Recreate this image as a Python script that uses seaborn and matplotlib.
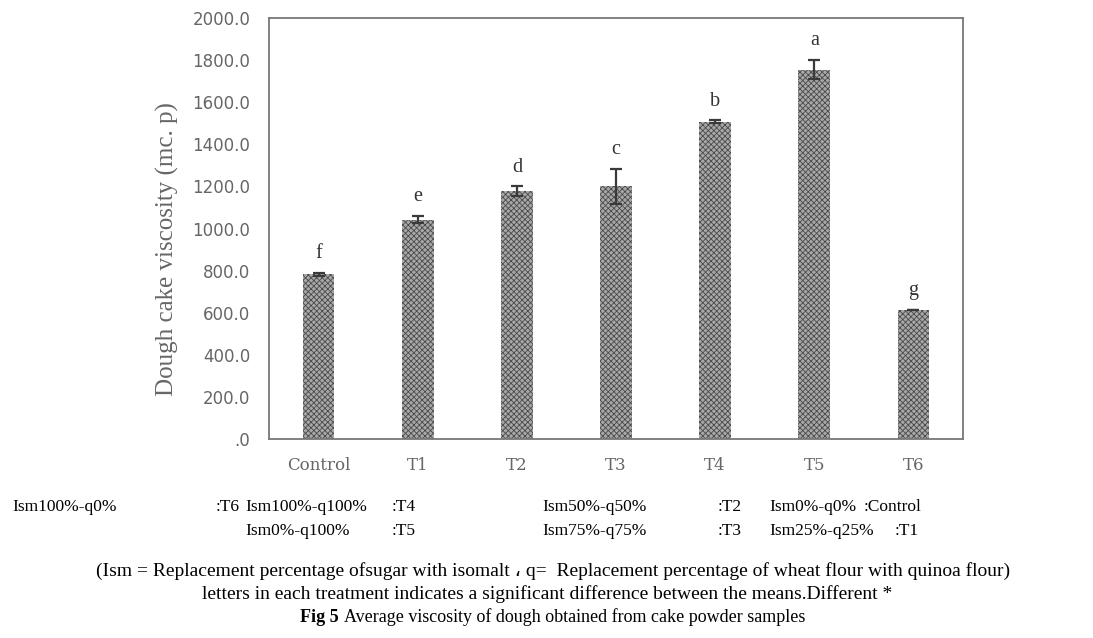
import matplotlib
matplotlib.use("Agg")
import matplotlib.pyplot as plt
import seaborn as sns
from matplotlib.ticker import FuncFormatter

# Data
treatments = ["Control", "T1", "T2", "T3", "T4", "T5", "T6"]
viscosity = [782, 1042, 1178, 1200, 1508, 1755, 612]
std_err = [6, 18, 22, 82, 6, 45, 0]
letters = ["f", "e", "d", "c", "b", "a", "g"]

# Treatment key printed under the chart (text, x pixel)
key_row1 = [("Ism100%-q0%", 12), (":T6", 216), ("Ism100%-q100%", 245), (":T4", 392),
            ("Ism50%-q50%", 542), (":T2", 718), ("Ism0%-q0%", 769), (":Control", 864)]
key_row2 = [("Ism0%-q100%", 245), (":T5", 392), ("Ism75%-q75%", 542), (":T3", 718),
            ("Ism25%-q25%", 769), (":T1", 895)]

note_line = ("(Ism = Replacement percentage ofsugar with isomalt \u060c q=  "
             "Replacement percentage of wheat flour with quinoa flour)")
sig_line = "letters in each treatment indicates a significant difference between the means.Different *"
caption = "Average viscosity of dough obtained from cake powder samples"

W, H = 1093, 638

sns.set_style("white")
plt.rcParams["font.family"] = ["DejaVu Sans"]
plt.rcParams["hatch.linewidth"] = 0.6

fig = plt.figure(figsize=(W / 100, H / 100), dpi=100)
ax = fig.add_axes([269 / W, 1 - 439 / H, (963 - 269) / W, (439 - 18) / H])

sns.barplot(x=treatments, y=viscosity, ax=ax, color="#a8a8a8", width=0.32,
            errorbar=None, saturation=1)
for bar in ax.patches:
    bar.set_hatch("xxxxxx")
    bar.set_edgecolor("#4a4a4a")
    bar.set_linewidth(0)

ax.errorbar(range(len(treatments)), viscosity, yerr=std_err, fmt="none",
            ecolor="#3a3a3a", elinewidth=1.6, capsize=4.5, capthick=1.6)

for i, (v, e, lab) in enumerate(zip(viscosity, std_err, letters)):
    ax.annotate(lab, (i, v + e), xytext=(0, 7), textcoords="offset points",
                ha="center", va="bottom", fontsize=14.5, color="#333333",
                family="Liberation Serif")

ax.set_ylim(0, 2000)
ax.set_xlim(-0.5, 6.5)
ax.set_yticks(range(0, 2001, 200))
ax.yaxis.set_major_formatter(FuncFormatter(lambda v, p: ".0" if v == 0 else f"{v:.1f}"))
ax.tick_params(axis="both", length=0)
ax.tick_params(axis="y", pad=13.5, labelsize=12, labelcolor="#666666")
ax.tick_params(axis="x", pad=13, labelcolor="#666666")
for t in ax.get_xticklabels():
    t.set_family("DejaVu Serif")
    t.set_fontsize(12)
ax.set_xlabel("")
ax.set_ylabel("Dough cake viscosity (mc. p)", family="Liberation Serif",
              fontsize=18, color="#666666")
ax.yaxis.set_label_coords(-0.13, 0.451)
for s in ax.spines.values():
    s.set_visible(True)
    s.set_color("#777777")
    s.set_linewidth(1.3)

serif = ["Liberation Serif", "DejaVu Sans"]
for txt, x in key_row1:
    fig.text(x / W, 1 - 507 / H, txt, ha="left", va="center", fontsize=12.5,
             family=serif, color="black")
for txt, x in key_row2:
    fig.text(x / W, 1 - 531 / H, txt, ha="left", va="center", fontsize=12.5,
             family=serif, color="black")

fig.text(553 / W, 1 - 571 / H, note_line, ha="center", va="center", fontsize=14,
         family=serif, color="black")
fig.text(547 / W, 1 - 594 / H, sig_line, ha="center", va="center", fontsize=14,
         family=serif, color="black")
fig.text(339 / W, 1 - 617 / H, "Fig 5", ha="right", va="center", fontsize=13,
         family=serif, weight="bold", color="black")
fig.text(344 / W, 1 - 617 / H, caption, ha="left", va="center", fontsize=13,
         family=serif, color="black")

fig.savefig("out.png", dpi=100)
